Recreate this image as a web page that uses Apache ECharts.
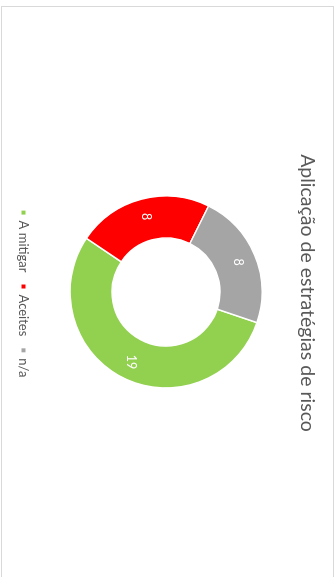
<!DOCTYPE html>
<html>
<head>
<meta charset="utf-8">
<script src="https://cdn.jsdelivr.net/npm/echarts@6/dist/echarts.min.js"></script>
<style>
  html, body { margin: 0; padding: 0; background: #ffffff; width: 336px; height: 577px; overflow: hidden; }
  /* Chart frame is laid out landscape and turned a quarter clockwise */
  #frame {
    position: absolute;
    left: 334px;
    top: 6px;
    width: 574px;
    height: 333px;
    box-sizing: border-box;
    border: 1px solid #d9d9d9;
    background: #ffffff;
    transform-origin: 0 0;
    transform: rotate(90deg);
  }
  #chart { width: 572px; height: 331px; }
</style>
</head>
<body>
<div id="frame"><div id="chart"></div></div>
<script>
const titleText = 'Aplicação de estratégias de risco';
const categories = ['A mitigar', 'Aceites', 'n/a'];
const values = [19, 8, 8];
const colors = ['#92D050', '#FF0000', '#A5A5A5'];

const chart = echarts.init(document.getElementById('chart'), null, { renderer: 'canvas' });

chart.setOption({
  animation: false,
  backgroundColor: '#ffffff',
  title: {
    text: titleText,
    left: 'center',
    top: 11,
    textStyle: {
      fontFamily: 'Lato',
      fontSize: 19.5,
      fontWeight: 'normal',
      color: '#595959'
    }
  },
  legend: {
    data: categories,
    left: 'center',
    top: 298,
    icon: 'rect',
    itemWidth: 6,
    itemHeight: 6,
    itemGap: 10,
    textStyle: {
      fontFamily: 'Lato',
      fontSize: 13,
      color: '#595959'
    }
  },
  series: [{
    type: 'pie',
    center: [285, 167],
    radius: [54, 96],
    startAngle: 71.4,
    clockwise: true,
    avoidLabelOverlap: false,
    itemStyle: { borderColor: '#ffffff', borderWidth: 1.5 },
    label: {
      show: true,
      position: 'inside',
      formatter: '{c}',
      fontFamily: 'Lato',
      fontSize: 12.5,
      color: '#ffffff'
    },
    labelLine: { show: false },
    emphasis: { disabled: true },
    data: categories.map((name, i) => ({
      name: name,
      value: values[i],
      itemStyle: { color: colors[i] }
    }))
  }]
});
</script>
</body>
</html>
